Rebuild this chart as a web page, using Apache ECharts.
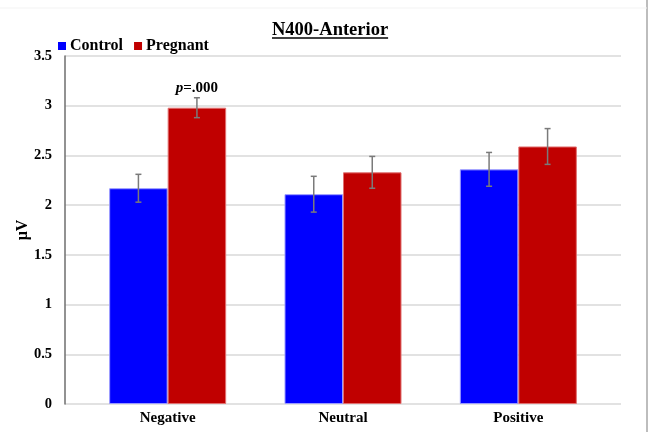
<!DOCTYPE html>
<html>
<head>
<meta charset="utf-8">
<script src="https://cdn.jsdelivr.net/npm/echarts@6/dist/echarts.min.js"></script>
<style>
  html, body { margin: 0; padding: 0; background: #ffffff; }
  #chart { width: 651px; height: 432px; }
</style>
</head>
<body>
<div id="chart"></div>
<script>
// N400 amplitude at anterior sites, by stimulus valence and group
var categories = ['Negative', 'Neutral', 'Positive'];
var controlMeans = [2.17, 2.11, 2.36];
var controlErr = [0.14, 0.18, 0.17];
var pregnantMeans = [2.98, 2.33, 2.59];
var pregnantErr = [0.10, 0.16, 0.18];
var pregnantNotes = ['p=.000', '', ''];
var yTicks = { min: 0, max: 3.5, step: 0.5 };

var SERIF = '"Liberation Serif", "Times New Roman", serif';
var BAR_W = 58.5;
var TITLE = 'N400-Anterior';
var TITLE_FONT = 'bold 18.5px ' + SERIF;
var TITLE_X = 272;
var TITLE_TOP = 21;

// measure the title so its underline spans the text exactly
function textWidth(txt, font) {
  var ctx = document.createElement('canvas').getContext('2d');
  ctx.font = font;
  return ctx.measureText(txt).width;
}
var titleW = textWidth(TITLE, TITLE_FONT);

var chart = echarts.init(document.getElementById('chart'), null, { renderer: 'canvas' });

function errorSeries(name, means, errs, offset) {
  return {
    name: name + ' SE',
    type: 'custom',
    xAxisIndex: 1,
    yAxisIndex: 1,
    z: 10,
    silent: true,
    data: means.map(function (m, i) { return [i, m - errs[i], m + errs[i]]; }),
    renderItem: function (params, api) {
      var lo = api.coord([api.value(0), api.value(1)]);
      var hi = api.coord([api.value(0), api.value(2)]);
      var x = lo[0] + offset;
      var cap = 3;
      var st = { stroke: '#7a7a7a', lineWidth: 1.5 };
      return {
        type: 'group',
        children: [
          { type: 'line', shape: { x1: x, y1: lo[1], x2: x, y2: hi[1] }, style: st },
          { type: 'line', shape: { x1: x - cap, y1: lo[1], x2: x + cap, y2: lo[1] }, style: st },
          { type: 'line', shape: { x1: x - cap, y1: hi[1], x2: x + cap, y2: hi[1] }, style: st }
        ]
      };
    }
  };
}

var option = {
  backgroundColor: '#ffffff',
  animation: false,
  title: {
    text: TITLE,
    left: TITLE_X,
    top: TITLE_TOP,
    padding: 0,
    textStyle: { fontFamily: SERIF, fontWeight: 'bold', fontSize: 18.5, color: '#000' }
  },
  legend: {
    left: 53,
    top: 33,
    itemWidth: 8,
    itemHeight: 8,
    itemGap: 11,
    icon: 'rect',
    data: ['Control', 'Pregnant'],
    itemStyle: { borderWidth: 0 },
    textStyle: { fontFamily: SERIF, fontWeight: 'bold', fontSize: 16, color: '#000', padding: [0, 0, 0, -1] }
  },
  grid: [
    { left: 65, right: 30, top: 56, bottom: 28 },
    { left: 80, right: 45, top: 56, bottom: 28 }
  ],
  xAxis: [
    { gridIndex: 0, type: 'value', show: false },
    {
      gridIndex: 1,
      type: 'category',
      data: categories,
      axisLine: { show: false },
      axisTick: { show: false },
      axisLabel: { margin: 7, fontFamily: SERIF, fontWeight: 'bold', fontSize: 15, color: '#000' }
    }
  ],
  yAxis: [
    {
      gridIndex: 0,
      type: 'value',
      min: yTicks.min,
      max: yTicks.max,
      interval: yTicks.step,
      name: 'μV',
      nameLocation: 'middle',
      nameGap: 34,
      nameMoveOverlap: false,
      nameTextStyle: { fontFamily: SERIF, fontWeight: 'bold', fontSize: 16, color: '#000' },
      axisLine: { show: true, lineStyle: { color: '#6e6e6e', width: 1.5 } },
      axisTick: { show: false },
      axisLabel: { margin: 13, fontFamily: SERIF, fontWeight: 'bold', fontSize: 14.5, color: '#000' },
      splitLine: { show: true, lineStyle: { color: '#d9d9d9', width: 1.5 } }
    },
    { gridIndex: 1, type: 'value', min: yTicks.min, max: yTicks.max, show: false }
  ],
  series: [
    {
      name: 'Control',
      type: 'bar',
      xAxisIndex: 1,
      yAxisIndex: 1,
      barWidth: BAR_W,
      barGap: '0%',
      data: controlMeans,
      itemStyle: { color: '#0000ff', borderColor: '#9a9aff', borderWidth: 1 }
    },
    {
      name: 'Pregnant',
      type: 'bar',
      xAxisIndex: 1,
      yAxisIndex: 1,
      barWidth: BAR_W,
      barGap: '0%',
      data: pregnantMeans.map(function (v, i) {
        return {
          value: v,
          label: {
            show: pregnantNotes[i] !== '',
            position: 'top',
            distance: 12,
            formatter: function () {
              var t = pregnantNotes[i];
              return '{i|' + t.charAt(0) + '}{b|' + t.slice(1) + '}';
            },
            rich: {
              i: { fontFamily: SERIF, fontWeight: 'bold', fontStyle: 'italic', fontSize: 15, color: '#000' },
              b: { fontFamily: SERIF, fontWeight: 'bold', fontSize: 15, color: '#000' }
            }
          }
        };
      }),
      itemStyle: { color: '#c00000', borderColor: '#e07070', borderWidth: 1 }
    },
    errorSeries('Control', controlMeans, controlErr, -BAR_W / 2),
    errorSeries('Pregnant', pregnantMeans, pregnantErr, BAR_W / 2)
  ],
  graphic: [
    // title underline
    { type: 'line', z: 100, shape: { x1: TITLE_X, y1: TITLE_TOP + 17, x2: TITLE_X + titleW, y2: TITLE_TOP + 17 }, style: { stroke: '#000', lineWidth: 1.3 } },
    // chart frame edges
    { type: 'line', z: 100, shape: { x1: 647, y1: 0, x2: 647, y2: 432 }, style: { stroke: '#bdbdbd', lineWidth: 2 } },
    { type: 'line', z: 100, shape: { x1: 0, y1: 8, x2: 647, y2: 8 }, style: { stroke: '#f3f3f3', lineWidth: 1 } }
  ]
};

chart.setOption(option);
</script>
</body>
</html>
